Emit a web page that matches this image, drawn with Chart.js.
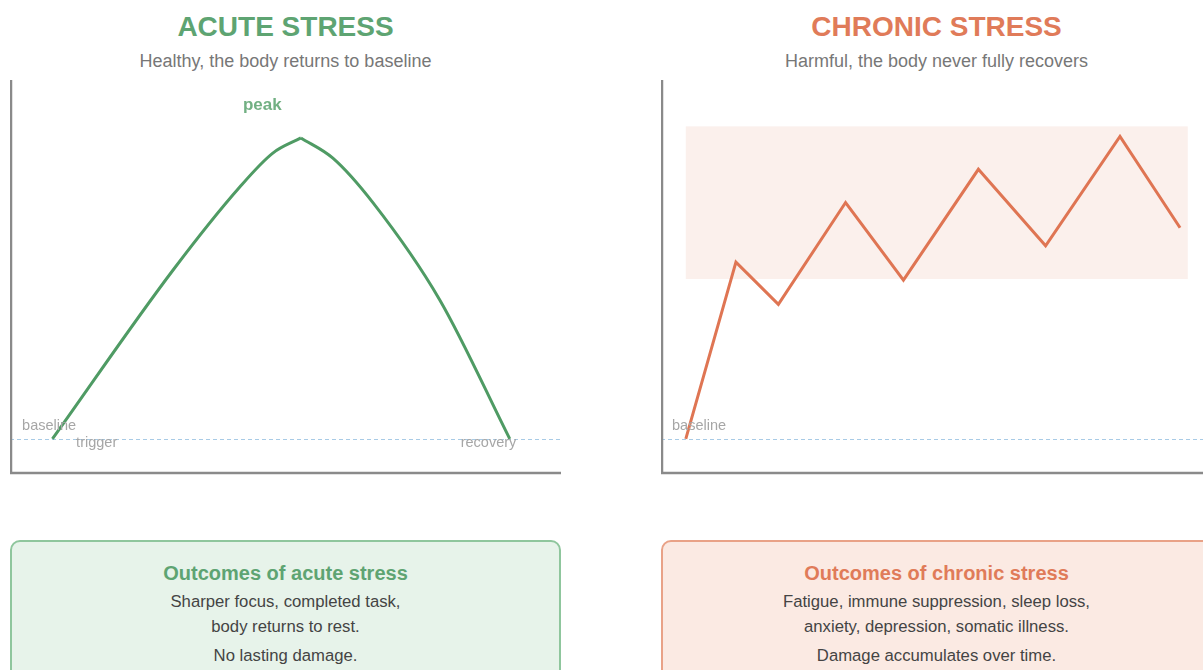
<!DOCTYPE html>
<html>
<head>
<meta charset="utf-8">
<script src="https://cdn.jsdelivr.net/npm/chart.js@4.4.1/dist/chart.umd.min.js"></script>
<style>
  html, body { margin: 0; padding: 0; background: #fff; }
  body { width: 1203px; height: 670px; overflow: hidden; position: relative; font-family: "Liberation Sans", Arial, sans-serif; }
  .panel { position: absolute; top: 0; width: 551px; height: 670px; }
  .title { position: absolute; top: 13px; left: 0; width: 100%; text-align: center; font-size: 28px; line-height: 28px; font-weight: bold; }
  .sub { position: absolute; top: 52px; left: 0; width: 100%; text-align: center; font-size: 18px; line-height: 18px; color: #777; }
  .plot { position: absolute; top: 78px; left: 0; width: 551px; height: 397px; }
  .box { position: absolute; top: 540px; left: 0; width: 547px; height: 150px; border: 2px solid; border-radius: 10px; text-align: center; }
  .box h3 { margin: 0; position: absolute; top: 20px; width: 100%; font-size: 20px; line-height: 22px; }
  .box p { margin: 0; position: absolute; width: 100%; font-size: 16.7px; line-height: 18px; color: #444; }
  #left { left: 10px; }
  #right { left: 661px; }
  #left .title, #left h3 { color: #5ea472; }
  #right .title, #right h3 { color: #e07b59; }
  #left .box { background: #e7f3ea; border-color: #8fc69d; }
  #right .box { background: #fbeae3; border-color: #e9a287; }
</style>
</head>
<body>
<div class="panel" id="left">
  <div class="title">ACUTE STRESS</div>
  <div class="sub">Healthy, the body returns to baseline</div>
  <div class="plot"><canvas id="acuteChart"></canvas></div>
  <div class="box">
    <h3>Outcomes of acute stress</h3>
    <p style="top:51px">Sharper focus, completed task,</p>
    <p style="top:76px">body returns to rest.</p>
    <p style="top:105px">No lasting damage.</p>
  </div>
</div>
<div class="panel" id="right">
  <div class="title">CHRONIC STRESS</div>
  <div class="sub">Harmful, the body never fully recovers</div>
  <div class="plot"><canvas id="chronicChart"></canvas></div>
  <div class="box">
    <h3>Outcomes of chronic stress</h3>
    <p style="top:51px">Fatigue, immune suppression, sleep loss,</p>
    <p style="top:76px">anxiety, depression, somatic illness.</p>
    <p style="top:105px">Damage accumulates over time.</p>
  </div>
</div>
<script>
// acute response: rise to the peak, then recovery back to baseline
const acuteRiseX = [7.7, 29.6, 41.7, 47.7, 52.8];
const acuteRiseY = [0, 46.8, 69.8, 79.2, 83.4];
const acuteFallX = [52.8, 58.6, 65.9, 78, 90.7];
const acuteFallY = [83.4, 77.8, 65.4, 38.5, 0];

// chronic response: repeated hits, never back to baseline
const chronicX = [4.5, 13.6, 21.3, 33.5, 44, 57.6, 69.8, 83.3, 94.2];
const chronicY = [0, 49, 37.3, 65.5, 44, 74.7, 53.5, 83.8, 58.5];

// elevated zone behind the chronic line
const bandX = [4.5, 95.6];
const bandY = [44.3, 86.6];

// text marks [x, y, text]
const acuteLabels = [
  [45.8, 92.3, "peak"],
  [2.2, 3.6, "baseline"],
  [12, -1.2, "trigger"],
  [81.8, -1.2, "recovery"]
];
const chronicLabels = [
  [2, 3.6, "baseline"]
];

const green = "#4f9b64";
const orange = "#df7553";

function pts(xs, ys) {
  return xs.map((x, i) => ({ x: x, y: ys[i] }));
}

const overlay = {
  id: "overlay",
  beforeDatasetsDraw(chart, args, opts) {
    const ctx = chart.ctx;
    const x = chart.scales.x;
    const y = chart.scales.y;
    const a = chart.chartArea;
    ctx.save();
    if (opts.band) {
      ctx.fillStyle = "#fbf0ec";
      const x0 = x.getPixelForValue(opts.band[0][0]);
      const x1 = x.getPixelForValue(opts.band[0][1]);
      const y0 = y.getPixelForValue(opts.band[1][1]);
      const y1 = y.getPixelForValue(opts.band[1][0]);
      ctx.fillRect(x0, y0, x1 - x0, y1 - y0);
    }
    // baseline
    ctx.strokeStyle = "#a8cbe6";
    ctx.lineWidth = 1;
    ctx.setLineDash([4, 3]);
    const yb = Math.round(y.getPixelForValue(0)) + 0.5;
    ctx.beginPath();
    ctx.moveTo(a.left, yb);
    ctx.lineTo(a.right, yb);
    ctx.stroke();
    // axes
    ctx.setLineDash([]);
    ctx.strokeStyle = "#8a8a8a";
    ctx.lineWidth = 2.5;
    ctx.beginPath();
    ctx.moveTo(a.left + 1, a.top + 2);
    ctx.lineTo(a.left + 1, a.bottom - 2);
    ctx.lineTo(a.right, a.bottom - 2);
    ctx.stroke();
    ctx.restore();
  },
  afterDatasetsDraw(chart, args, opts) {
    const ctx = chart.ctx;
    const x = chart.scales.x;
    const y = chart.scales.y;
    ctx.save();
    ctx.textBaseline = "middle";
    (opts.labels || []).forEach(l => {
      if (l[2] === "peak") {
        ctx.font = "bold 17px 'Liberation Sans', Arial, sans-serif";
        ctx.fillStyle = "#72b083";
        ctx.textAlign = "center";
      } else {
        ctx.font = "14.5px 'Liberation Sans', Arial, sans-serif";
        ctx.fillStyle = "#a6a6a6";
        ctx.textAlign = "left";
      }
      ctx.fillText(l[2], x.getPixelForValue(l[0]), y.getPixelForValue(l[1]));
    });
    ctx.restore();
  }
};

function makeChart(id, datasets, labels, band) {
  return new Chart(document.getElementById(id), {
    type: "line",
    data: { datasets: datasets },
    options: {
      responsive: true,
      maintainAspectRatio: false,
      animation: false,
      layout: { padding: 0 },
      scales: {
        x: { type: "linear", min: 0, max: 100, display: false },
        y: { min: -10, max: 100, display: false }
      },
      plugins: {
        legend: { display: false },
        tooltip: { enabled: false },
        overlay: { labels: labels, band: band }
      },
      elements: { point: { radius: 0 } }
    },
    plugins: [overlay]
  });
}

makeChart("acuteChart", [
  { data: pts(acuteRiseX, acuteRiseY), borderColor: green, borderWidth: 3, cubicInterpolationMode: "monotone", clip: false },
  { data: pts(acuteFallX, acuteFallY), borderColor: green, borderWidth: 3, cubicInterpolationMode: "monotone", clip: false }
], acuteLabels, null);

makeChart("chronicChart", [
  { data: pts(chronicX, chronicY), borderColor: orange, borderWidth: 3, tension: 0, clip: false }
], chronicLabels, [bandX, bandY]);
</script>
</body>
</html>
